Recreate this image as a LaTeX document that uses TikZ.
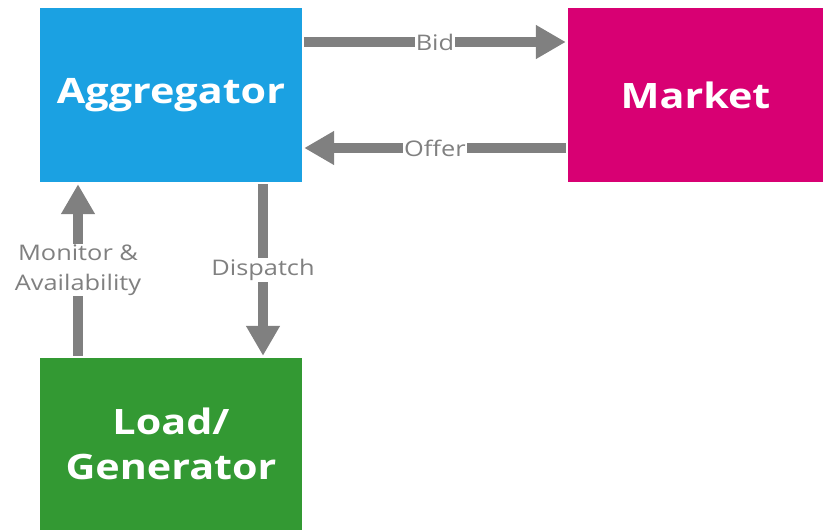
\documentclass[tikz,border=0pt]{standalone}
\usepackage{fontspec}
\setmainfont{Open Sans}
\usepackage{tikz}
\usetikzlibrary{arrows.meta,positioning}

\definecolor{aggblue}{HTML}{1BA1E2}
\definecolor{mktpink}{HTML}{D80073}
\definecolor{loadgreen}{HTML}{339933}
\definecolor{arrgray}{HTML}{808080}

% wide text, as in the reference
\newcommand{\wide}[1]{\scalebox{1.18}[1]{#1}}

\tikzset{
  block/.style={inner sep=0pt, align=center, text=white,
    font=\fontsize{35}{45}\selectfont\bfseries},
  flow/.style={-{Triangle[length=30pt,width=32pt]}, line width=10pt, arrgray,
    shorten >=2pt, shorten <=2pt},
  flowlabel/.style={fill=white, inner sep=1pt, text=arrgray,
    font=\fontsize{21.5}{30}\selectfont, align=center}
}

\begin{document}
\begin{tikzpicture}[x=1pt,y=-1pt]
  \useasboundingbox (0,0) rectangle (823,530);

  % the three blocks
  \node[block, fill=aggblue, minimum width=262pt, minimum height=174pt] (agg) at (171,95) {\wide{Aggregator}};
  \node[block, fill=mktpink, minimum width=255pt, minimum height=174pt] (market) at (695.5,95) {\wide{Market}};
  \node[block, fill=loadgreen, minimum width=262pt, minimum height=172pt] (load) at (171,444) {\wide{Load/}\\\wide{Generator}};

  % market side
  \draw[flow] ([yshift=53pt]agg.east) -- node[flowlabel] (bid) {\wide{Bid}} ([yshift=53pt]market.west);
  \draw[flow] ([yshift=-53pt]market.west) -- node[flowlabel] (offer) {\wide{Offer}} ([yshift=-53pt]agg.east);

  % load side
  \draw[flow] ([xshift=92pt]agg.south) -- node[flowlabel] (dispatch) {\wide{Dispatch}} ([xshift=92pt]load.north);
  \draw[flow] ([xshift=-93pt]load.north) -- node[flowlabel] (monitor) {\wide{Monitor \&}\\\wide{Availability}} ([xshift=-93pt]agg.south);

\end{tikzpicture}
\end{document}
